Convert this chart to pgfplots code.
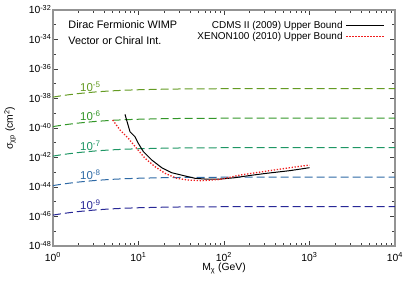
\documentclass[border=0pt]{standalone}
\usepackage{fontspec}
\setmainfont{Liberation Sans}
\usepackage{pgfplots}
\usepackage{pgfplotstable}
\pgfplotsset{compat=1.18}
\definecolor{c5}{RGB}{100,155,35}
\definecolor{c6}{RGB}{50,150,40}
\definecolor{c7}{RGB}{30,150,100}
\definecolor{c8}{RGB}{45,105,165}
\definecolor{c9}{RGB}{40,40,150}
\definecolor{xred}{RGB}{240,30,30}

\pgfplotstableread{
M     s5         s6         s7         s8         s9
1     1.249e-38  1.249e-40  1.249e-42  1.249e-44  1.249e-46
1.2   1.478e-38  1.478e-40  1.478e-42  1.478e-44  1.478e-46
1.5   1.776e-38  1.776e-40  1.776e-42  1.776e-44  1.776e-46
2     2.175e-38  2.175e-40  2.175e-42  2.175e-44  2.175e-46
3     2.725e-38  2.725e-40  2.725e-42  2.725e-44  2.725e-46
4     3.081e-38  3.081e-40  3.081e-42  3.081e-44  3.081e-46
5     3.330e-38  3.330e-40  3.330e-42  3.330e-44  3.330e-46
7     3.653e-38  3.653e-40  3.653e-42  3.653e-44  3.653e-46
10    3.927e-38  3.927e-40  3.927e-42  3.927e-44  3.927e-46
20    4.287e-38  4.287e-40  4.287e-42  4.287e-44  4.287e-46
30    4.419e-38  4.419e-40  4.419e-42  4.419e-44  4.419e-46
50    4.528e-38  4.528e-40  4.528e-42  4.528e-44  4.528e-46
100   4.613e-38  4.613e-40  4.613e-42  4.613e-44  4.613e-46
1000  4.691e-38  4.691e-40  4.691e-42  4.691e-44  4.691e-46
10000 4.699e-38  4.699e-40  4.699e-42  4.699e-44  4.699e-46
}\wimp

\pgfplotstableread{
M     s
6.95  8.51e-40
7.95  5.62e-41
9.1   2.57e-41
9.95  9.12e-42
11.4  2.51e-42
14.3  6.76e-43
18.7  2.04e-43
24.4  9.33e-44
35    5.62e-44
45.8  3.89e-44
60    3.47e-44
86    3.39e-44
134   4.27e-44
200   6.03e-44
316   8.51e-44
592   1.29e-43
1000  2.04e-43
}\cdms

\pgfplotstableread{
M     s
5.0   3.47e-40
6.08  7.24e-41
7.6   2.00e-41
9.5   4.17e-42
11.9  8.91e-43
15.6  2.40e-43
20.4  8.51e-44
28    3.89e-44
38.3  2.95e-44
55    2.69e-44
90    3.24e-44
154   6.46e-44
316   1.20e-43
592   2.04e-43
1000  3.09e-43
}\xenon

\begin{document}
\fontsize{10pt}{12pt}\selectfont
\begin{tikzpicture}
\useasboundingbox (-53bp,-39bp) rectangle (354bp,246bp);
\begin{axis}[
  scale only axis, width=342bp, height=236bp,
  xmode=log, ymode=log,
  xmin=1, xmax=1e4, ymin=1e-48, ymax=1e-32,
  xtick={1,10,100,1000,10000},
  xticklabels={10\textsuperscript{0},10\textsuperscript{1},10\textsuperscript{2},10\textsuperscript{3},10\textsuperscript{4}},
  ytick={1e-48,1e-46,1e-44,1e-42,1e-40,1e-38,1e-36,1e-34,1e-32},
  yticklabels={10\textsuperscript{-48},10\textsuperscript{-46},10\textsuperscript{-44},10\textsuperscript{-42},10\textsuperscript{-40},10\textsuperscript{-38},10\textsuperscript{-36},10\textsuperscript{-34},10\textsuperscript{-32}},
  minor ytick={1e-47,1e-45,1e-43,1e-41,1e-39,1e-37,1e-35,1e-33},
  tick align=inside,
  major tick length=5bp, minor tick length=3bp,
  tick style={black!75, line width=0.6bp},
  axis line style={draw=gray!85, line width=1.5bp},
  yticklabel style={anchor=base east, yshift=-3.7bp, inner sep=1.5bp, font=\fontsize{10.4pt}{12pt}\selectfont},
  xticklabel style={anchor=base, yshift=-15.2bp, inner sep=0pt, font=\fontsize{10.4pt}{12pt}\selectfont},
  every axis x label/.style={at={(axis description cs:0.5,0)}, anchor=base, yshift=-24.7bp, font=\fontsize{10.4pt}{12pt}\selectfont},
  every axis y label/.style={at={(axis description cs:-0.117,0.5)}, rotate=90, anchor=base, font=\fontsize{10.4pt}{12pt}\selectfont},
  xlabel={M\textsubscript{χ} (GeV)},
  ylabel={σ\textsubscript{χp} (cm\textsuperscript{2})},
  legend plot pos=right,
  legend cell align=right,
  legend style={draw=none, fill=none, inner sep=0pt, row sep=0pt, column sep=2bp,
    at={(axis description cs:0.971,0.956)}, anchor=north east,
    font=\fontsize{10pt}{12pt}\selectfont,
    nodes={inner sep=1bp}},
  legend image code/.code={\draw[#1] (0bp,0bp) -- (38bp,0bp);},
]
\addplot[c5, line width=1bp, dash pattern=on 8bp off 4bp, forget plot] table[x=M, y=s5] {\wimp};
\addplot[c6, line width=1bp, dash pattern=on 8bp off 4bp, forget plot] table[x=M, y=s6] {\wimp};
\addplot[c7, line width=1bp, dash pattern=on 8bp off 4bp, forget plot] table[x=M, y=s7] {\wimp};
\addplot[c8, line width=1bp, dash pattern=on 8bp off 4bp, forget plot] table[x=M, y=s8] {\wimp};
\addplot[c9, line width=1bp, dash pattern=on 8bp off 4bp, forget plot] table[x=M, y=s9] {\wimp};

\addplot[black, line width=1bp] table[x=M, y=s] {\cdms};
\addlegendentry{CDMS II (2009) Upper Bound}
\addplot[color=xred, line width=1.3bp, dash pattern=on 1.3bp off 1.7bp] table[x=M, y=s] {\xenon};
\addlegendentry{XENON100 (2010) Upper Bound}

\node[anchor=base west, text=c5, inner sep=0pt, font=\fontsize{11.5pt}{13pt}\selectfont] at (axis cs:2.07,3.0e-38) {10\textsuperscript{-5}};
\node[anchor=base west, text=c6, inner sep=0pt, font=\fontsize{11.5pt}{13pt}\selectfont] at (axis cs:2.07,3.0e-40) {10\textsuperscript{-6}};
\node[anchor=base west, text=c7, inner sep=0pt, font=\fontsize{11.5pt}{13pt}\selectfont] at (axis cs:2.07,3.0e-42) {10\textsuperscript{-7}};
\node[anchor=base west, text=c8, inner sep=0pt, font=\fontsize{11.5pt}{13pt}\selectfont] at (axis cs:2.07,3.0e-44) {10\textsuperscript{-8}};
\node[anchor=base west, text=c9, inner sep=0pt, font=\fontsize{11.5pt}{13pt}\selectfont] at (axis cs:2.07,3.0e-46) {10\textsuperscript{-9}};

\node[anchor=north west, align=left, inner sep=0pt, font=\fontsize{10.9pt}{15.5bp}\selectfont] at (rel axis cs:0.0447,0.9547) {Dirac Fermionic WIMP\\Vector or Chiral Int.};
\end{axis}
\end{tikzpicture}
\end{document}
